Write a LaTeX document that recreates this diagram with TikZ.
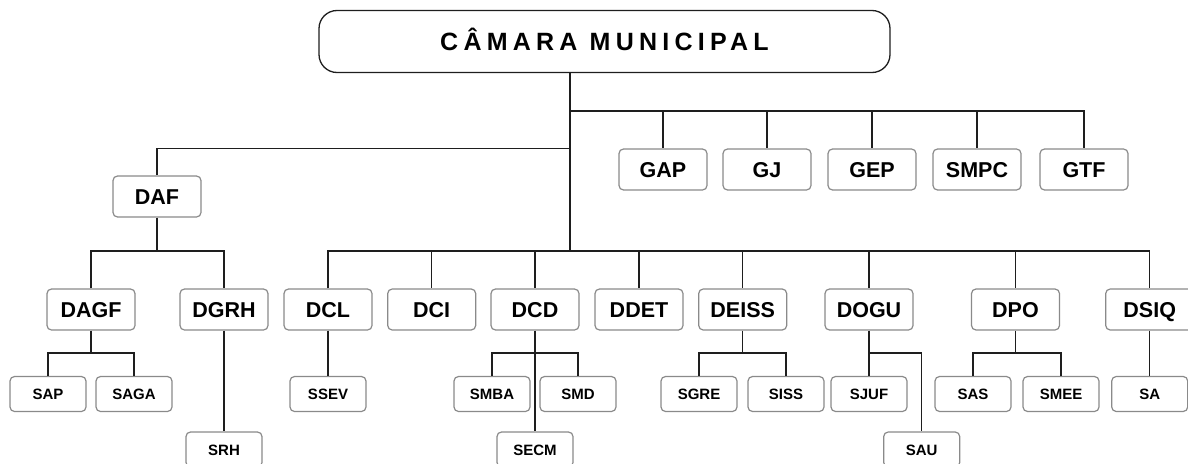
\documentclass[tikz,border=0pt]{standalone}
\usepackage{fontspec}
\setmainfont{Liberation Sans}
\newfontfamily\titlefont[LetterSpace=21]{Liberation Sans}
\definecolor{boxgray}{HTML}{8A8A8A}
\definecolor{linec}{HTML}{1E1E1E}
\begin{document}
\begin{tikzpicture}[x=1pt,y=-1pt,
  conn/.style={draw=linec,line width=1.4pt},
  boxbase/.style={draw=boxgray,line width=1.2pt,rounded corners=4.5pt,fill=white,
    inner sep=0pt,font=\bfseries,text=black,align=center},
  bigbox/.style={boxbase,minimum width=88pt,minimum height=41pt,
    font=\fontsize{21.5}{21.5}\selectfont\bfseries,text height=15pt,text depth=0pt},
  smallbox/.style={boxbase,minimum width=76pt,minimum height=35pt,
    font=\fontsize{15}{15}\selectfont\bfseries,text height=11pt,text depth=0pt},
  titlebox/.style={draw=linec,line width=1.3pt,rounded corners=18pt,fill=white,
    minimum width=571pt,minimum height=62pt,inner sep=0pt,
    font=\fontsize{25}{25}\selectfont\bfseries\titlefont,text height=18pt,text depth=0pt}
]
\useasboundingbox (0,0) rectangle (1188,463);

% title
\node[titlebox] (title) at (604.5,41.5) {CÂMARA MUNICIPAL};

% junctions
\coordinate (j1) at (570,111);
\coordinate (j2) at (570,148.7);
\coordinate (j3) at (570,251);
\coordinate (sb) at (0,353);

% level 1
\node[bigbox] (gap)  at (663,169.5) {GAP};
\node[bigbox] (gj)   at (767,169.5) {GJ};
\node[bigbox] (gep)  at (872,169.5) {GEP};
\node[bigbox] (smpc) at (977,169.5) {SMPC};
\node[bigbox] (gtf)  at (1084,169.5) {GTF};
\node[bigbox] (daf)  at (157,196.5) {DAF};

% level 2
\node[bigbox] (dagf)  at (91,309.5) {DAGF};
\node[bigbox] (dgrh)  at (224,309.5) {DGRH};
\node[bigbox] (dcl)   at (328,309.5) {DCL};
\node[bigbox] (dci)   at (431.7,309.5) {DCI};
\node[bigbox] (dcd)   at (535,309.5) {DCD};
\node[bigbox] (ddet)  at (639,309.5) {DDET};
\node[bigbox] (deiss) at (742.7,309.5) {DEISS};
\node[bigbox] (dogu)  at (869,309.5) {DOGU};
\node[bigbox] (dpo)   at (1015.5,309.5) {DPO};
\node[bigbox] (dsiq)  at (1149.7,309.5) {DSIQ};

% level 3
\node[smallbox] (sap)  at (48,394) {SAP};
\node[smallbox] (saga) at (134,394) {SAGA};
\node[smallbox] (ssev) at (328,394) {SSEV};
\node[smallbox] (smba) at (492,394) {SMBA};
\node[smallbox] (smd)  at (578,394) {SMD};
\node[smallbox] (sgre) at (699,394) {SGRE};
\node[smallbox] (siss) at (786,394) {SISS};
\node[smallbox] (sjuf) at (869,394) {SJUF};
\node[smallbox] (sas)  at (973,394) {SAS};
\node[smallbox] (smee) at (1061,394) {SMEE};
\node[smallbox] (sa)   at (1149.7,394) {SA};

% level 4
\node[smallbox] (srh)  at (224,449.5) {SRH};
\node[smallbox] (secm) at (535,449.5) {SECM};
\node[smallbox] (sau)  at (921.7,449.5) {SAU};

% trunk
\draw[conn] (title.south -| j3) -- (j3);
% G bus
\draw[conn] (j1) -| (gtf.north);
\foreach \g in {gap,gj,gep,smpc} \draw[conn] (\g.north |- j1) -- (\g.north);
% DAF
\draw[conn] (j2) -| (daf.north);
\draw[conn] (daf.south) -- (daf.south |- j3);
\draw[conn] (dagf.north) |- (dgrh.north |- j3) -- (dgrh.north);
% D bus
\draw[conn] (dcl.north) |- (dsiq.north |- j3) -- (dsiq.north);
\foreach \d in {dci,dcd,ddet,deiss,dogu,dpo} \draw[conn] (\d.north |- j3) -- (\d.north);
% DAGF
\draw[conn] (dagf.south) -- (dagf.south |- sb);
\draw[conn] (sap.north) |- (saga.north |- sb) -- (saga.north);
% DGRH, DCL
\draw[conn] (dgrh.south) -- (srh.north);
\draw[conn] (dcl.south) -- (ssev.north);
% DCD
\draw[conn] (dcd.south) -- (secm.north);
\draw[conn] (smba.north) |- (smd.north |- sb) -- (smd.north);
% DEISS
\draw[conn] (deiss.south) -- (deiss.south |- sb);
\draw[conn] (sgre.north) |- (siss.north |- sb) -- (siss.north);
% DOGU
\draw[conn] (dogu.south) -- (sjuf.north);
\draw[conn] (dogu.south |- sb) -| (sau.north);
% DPO
\draw[conn] (dpo.south) -- (dpo.south |- sb);
\draw[conn] (sas.north) |- (smee.north |- sb) -- (smee.north);
% DSIQ
\draw[conn] (dsiq.south) -- (sa.north);
\end{tikzpicture}
\end{document}
